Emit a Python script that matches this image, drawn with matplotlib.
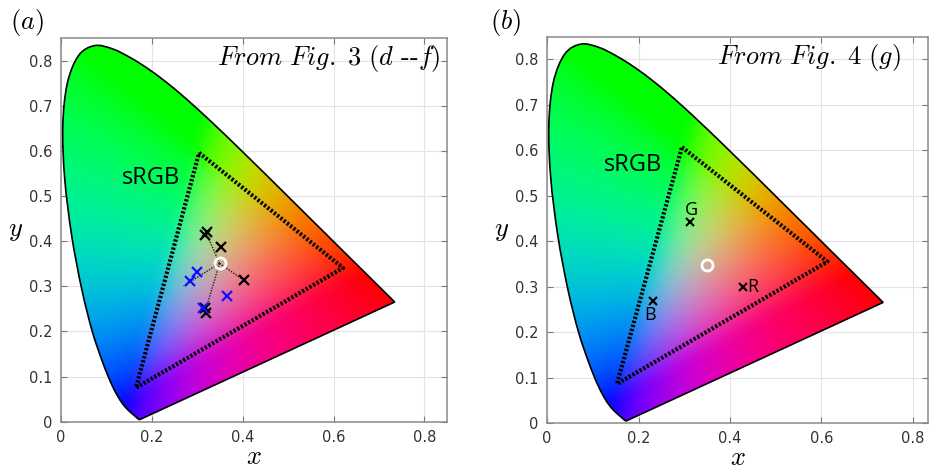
import numpy as np
import matplotlib
matplotlib.use("Agg")
import matplotlib.pyplot as plt
from matplotlib.path import Path
from matplotlib.patches import PathPatch

plt.rcParams['mathtext.fontset'] = 'cm'

# CIE 1931 spectral locus (380-700 nm, 5 nm steps)
locus_x = [0.1741, 0.1740, 0.1738, 0.1736, 0.1733, 0.1730, 0.1726, 0.1721, 0.1714, 0.1703,
           0.1689, 0.1669, 0.1644, 0.1611, 0.1566, 0.1510, 0.1440, 0.1355, 0.1241, 0.1096,
           0.0913, 0.0687, 0.0454, 0.0235, 0.0082, 0.0039, 0.0139, 0.0389, 0.0743, 0.1142,
           0.1547, 0.1929, 0.2296, 0.2658, 0.3016, 0.3373, 0.3731, 0.4087, 0.4441, 0.4788,
           0.5125, 0.5448, 0.5752, 0.6029, 0.6270, 0.6482, 0.6658, 0.6801, 0.6915, 0.7006,
           0.7079, 0.7140, 0.7190, 0.7230, 0.7260, 0.7283, 0.7300, 0.7311, 0.7320, 0.7327,
           0.7334, 0.7340, 0.7344, 0.7346, 0.7347]
locus_y = [0.0050, 0.0050, 0.0049, 0.0049, 0.0048, 0.0048, 0.0048, 0.0048, 0.0051, 0.0058,
           0.0069, 0.0086, 0.0109, 0.0138, 0.0177, 0.0227, 0.0297, 0.0399, 0.0578, 0.0868,
           0.1327, 0.2007, 0.2950, 0.4127, 0.5384, 0.6548, 0.7502, 0.8120, 0.8338, 0.8262,
           0.8059, 0.7816, 0.7543, 0.7243, 0.6923, 0.6589, 0.6245, 0.5896, 0.5547, 0.5202,
           0.4866, 0.4544, 0.4242, 0.3965, 0.3725, 0.3514, 0.3340, 0.3197, 0.3083, 0.2993,
           0.2920, 0.2859, 0.2809, 0.2770, 0.2740, 0.2717, 0.2700, 0.2689, 0.2680, 0.2673,
           0.2666, 0.2660, 0.2656, 0.2654, 0.2653]

# sRGB triangles as drawn in each panel
tri_a_x = [0.304, 0.621, 0.165]
tri_a_y = [0.596, 0.341, 0.075]
tri_b_x = [0.295, 0.613, 0.153]
tri_b_y = [0.607, 0.355, 0.086]

# Panel (a) points
white_a = (0.349, 0.351)
black_a_x = [0.322, 0.317, 0.352, 0.402, 0.317, 0.319]
black_a_y = [0.420, 0.413, 0.388, 0.314, 0.252, 0.240]
blue_a_x = [0.300, 0.284, 0.365, 0.313]
blue_a_y = [0.331, 0.311, 0.279, 0.253]
line_ends_x = [0.320, 0.402, 0.318, 0.270]
line_ends_y = [0.417, 0.314, 0.246, 0.301]

# Panel (b) points
white_b = (0.350, 0.348)
rgb_labels = ['G', 'R', 'B']
rgb_x = [0.313, 0.428, 0.231]
rgb_y = [0.442, 0.299, 0.269]

xticks = [0, 0.2, 0.4, 0.6, 0.8]
yticks = [0, 0.1, 0.2, 0.3, 0.4, 0.5, 0.6, 0.7, 0.8]


def smooth_locus_path():
    """Closed path: Catmull-Rom (as cubic Bezier) through locus points, straight purple line."""
    P = np.column_stack([locus_x, locus_y])
    n = len(P)
    verts = [tuple(P[0])]
    codes = [Path.MOVETO]
    for i in range(n - 1):
        p0 = P[i - 1] if i > 0 else P[i]
        p1, p2 = P[i], P[i + 1]
        p3 = P[i + 2] if i + 2 < n else P[i + 1]
        c1 = p1 + (p2 - p0) / 6.0
        c2 = p2 - (p3 - p1) / 6.0
        verts += [tuple(c1), tuple(c2), tuple(p2)]
        codes += [Path.CURVE4] * 3
    verts.append(tuple(P[0]))
    codes.append(Path.LINETO)
    verts.append(tuple(P[0]))
    codes.append(Path.CLOSEPOLY)
    return Path(verts, codes)


def gauss_blur(img, sigma_px):
    r = int(3 * sigma_px)
    k = np.exp(-0.5 * (np.arange(-r, r + 1) / sigma_px) ** 2)
    k /= k.sum()
    out = img.copy()
    for axis in (0, 1):
        pad = [(0, 0)] * 3
        pad[axis] = (r, r)
        p = np.pad(out, pad, mode='edge')
        acc = np.zeros_like(out)
        for i, w in enumerate(k):
            sl = [slice(None)] * 3
            sl[axis] = slice(i, i + out.shape[axis])
            acc += w * p[tuple(sl)]
        out = acc
    return out


def chroma_image(n=400):
    xs = np.linspace(-0.1, 0.85, n)
    ys = np.linspace(-0.1, 0.95, n)
    X, Y = np.meshgrid(xs, ys)
    Yc = np.clip(Y, 0.004, None)
    Z = 1 - X - Yc
    XYZ = np.stack([X / Yc, np.ones_like(X), Z / Yc], axis=-1)
    M = np.array([[3.2406, -1.5372, -0.4986],
                  [-0.9689, 1.8758, 0.0415],
                  [0.0557, -0.2040, 1.0570]])
    rgb = XYZ @ M.T
    rgb = np.clip(rgb, 0, None)
    rgb = rgb / np.maximum(rgb.max(axis=-1, keepdims=True), 1e-9)
    rgb = gauss_blur(rgb, sigma_px=5)
    rgb = rgb / np.maximum(np.linalg.norm(rgb, axis=-1, keepdims=True), 1e-9)
    rgb = np.power(np.clip(rgb, 0, 1), 0.62)
    return np.clip(rgb, 0, 1), [xs[0], xs[-1], ys[0], ys[-1]]


IMG, IMG_EXT = chroma_image()
LOCUS_PATH = smooth_locus_path()


def setup(ax, xmax):
    ax.set_xlim(0, xmax)
    ax.set_ylim(0, 0.85)
    ax.set_xticks(xticks)
    ax.set_yticks(yticks)
    ax.set_xticklabels(['0', '0.2', '0.4', '0.6', '0.8'])
    ax.set_yticklabels(['0', '0.1', '0.2', '0.3', '0.4', '0.5', '0.6', '0.7', '0.8'])
    ax.grid(True, color='#e3e3e3', lw=0.8, zorder=0)
    ax.set_axisbelow(True)
    ax.tick_params(direction='in', top=True, right=True, length=4, width=0.8,
                   color='#7a7a7a', labelcolor='#333333', labelsize=10.5, pad=6)
    for s in ax.spines.values():
        s.set_color('#8a8a8a')
        s.set_linewidth(1.1)
    patch = PathPatch(LOCUS_PATH, facecolor='none', edgecolor='none')
    ax.add_patch(patch)
    im = ax.imshow(IMG, extent=IMG_EXT, origin='lower',
                   interpolation='bilinear', aspect='auto', zorder=1)
    im.set_clip_path(patch)
    outline = PathPatch(LOCUS_PATH, facecolor='none', edgecolor='black', lw=1.2, zorder=2)
    ax.add_patch(outline)
    ax.set_xlim(0, xmax)
    ax.set_ylim(0, 0.85)
    ax.set_xlabel(r'$x$', fontsize=19, labelpad=-1)
    ax.set_ylabel(r'$y$', fontsize=19, rotation=0, labelpad=10, va='center')


def triangle(ax, tx, ty):
    ax.plot(tx + [tx[0]], ty + [ty[0]], color='black', lw=3,
            linestyle=(0, (0.55, 0.45)), dash_capstyle='butt', zorder=3)


fig = plt.figure(figsize=(9.3, 4.72), dpi=100)
ax1 = fig.add_axes([0.0656, 0.1066, 0.4151, 0.8123])
ax2 = fig.add_axes([0.5882, 0.1038, 0.4097, 0.8184])

# Panel (a)
setup(ax1, 0.85)
triangle(ax1, tri_a_x, tri_a_y)
for ex, ey in zip(line_ends_x, line_ends_y):
    ax1.plot([white_a[0], ex], [white_a[1], ey], color='#202020', lw=1.0,
             linestyle=(0, (1, 1)), zorder=4)
ax1.plot(black_a_x, black_a_y, 'x', color='black', ms=7, mew=1.6, zorder=5)
ax1.plot(blue_a_x, blue_a_y, 'x', color='#1010ff', ms=7, mew=1.6, zorder=5)
ax1.plot([white_a[0]], [white_a[1]], 'o', mfc='none', mec='white', ms=8, mew=2, zorder=6)
ax1.text(0.135, 0.541, 'sRGB', fontsize=17, family='Open Sans', ha='left', va='center', zorder=6)
ax1.text(0.835, 0.805, r'$From\ Fig.\ 3\ (d\ \text{--}f)$', fontsize=19,
         ha='right', va='center', zorder=6)
fig.text(0.011, 0.953, r'$(a)$', fontsize=19, ha='left', va='center')

# Panel (b)
setup(ax2, 0.833)
triangle(ax2, tri_b_x, tri_b_y)
ax2.plot(rgb_x, rgb_y, 'x', color='black', ms=6, mew=1.5, zorder=5)
ax2.text(rgb_x[0] + 0.003, rgb_y[0] + 0.006, rgb_labels[0], fontsize=13, family='Open Sans',
         ha='center', va='bottom', zorder=6)
ax2.text(rgb_x[1] + 0.009, rgb_y[1], rgb_labels[1], fontsize=13, family='Open Sans',
         ha='left', va='center', zorder=6)
ax2.text(rgb_x[2] - 0.006, rgb_y[2] - 0.012, rgb_labels[2], fontsize=13, family='Open Sans',
         ha='center', va='top', zorder=6)
ax2.plot([white_b[0]], [white_b[1]], 'o', mfc='none', mec='white', ms=8, mew=2, zorder=6)
ax2.text(0.125, 0.567, 'sRGB', fontsize=17, family='Open Sans', ha='left', va='center', zorder=6)
ax2.text(0.775, 0.805, r'$From\ Fig.\ 4\ (g)$', fontsize=19,
         ha='right', va='center', zorder=6)
fig.text(0.527, 0.953, r'$(b)$', fontsize=19, ha='left', va='center')

fig.savefig('out.png', dpi=100)
